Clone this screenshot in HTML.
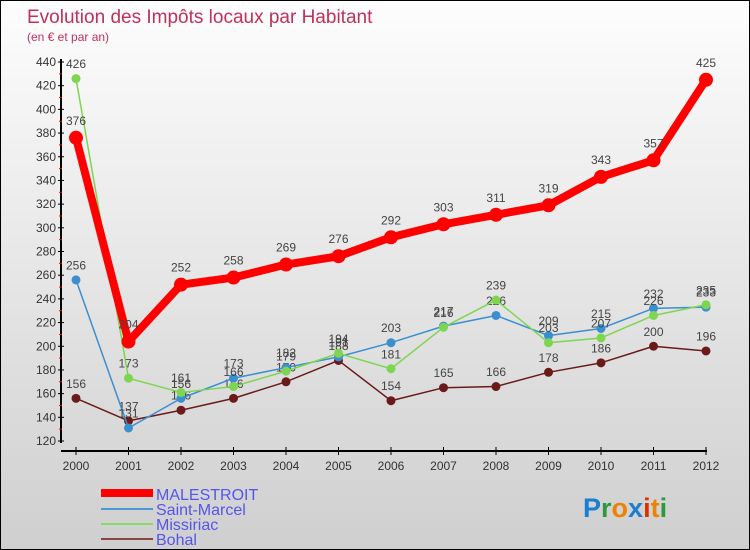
<!DOCTYPE html>
<html><head><meta charset="utf-8"><style>
body{margin:0}
#c{width:750px;height:550px;position:relative;box-sizing:border-box;border:1px solid #000;background:linear-gradient(#fdfdfd,#cfcfcf);font-family:"Liberation Sans",sans-serif;overflow:hidden}
</style></head><body>
<div id="c">
<svg id="s" width="750" height="550" style="position:absolute;left:0;top:0">
<text x="26" y="22" font-size="19" fill="#c0305a">Evolution des Impôts locaux par Habitant</text>
<text x="26" y="40" font-size="12" fill="#c0305a">(en € et par an)</text>
<g id="axes"></g><g id="series"></g>
<g>
<rect x="100" y="488" width="52" height="8" fill="#f00"/>
<text x="155" y="499" font-size="16" fill="#5555ee">MALESTROIT</text>
<line x1="100" y1="508" x2="152" y2="508" stroke="#4a9ad8" stroke-width="2"/>
<text x="155" y="514" font-size="16" fill="#5555ee">Saint-Marcel</text>
<line x1="100" y1="523" x2="152" y2="523" stroke="#88dd66" stroke-width="2"/>
<text x="155" y="529" font-size="16" fill="#5555ee">Missiriac</text>
<line x1="100" y1="538" x2="152" y2="538" stroke="#884444" stroke-width="2"/>
<text x="155" y="544" font-size="16" fill="#5555ee">Bohal</text>
</g>
<text x="582" y="516" font-size="27" font-weight="bold"><tspan fill="#1a7fd0">P</tspan><tspan fill="#2a9a3a">r</tspan><tspan fill="#f08000">o</tspan><tspan fill="#1a7fd0">x</tspan><tspan fill="#e03000">i</tspan><tspan fill="#f08000">t</tspan><tspan fill="#2a9a3a">i</tspan></text>
</svg>
</div>
<script>
const years=["2000","2001","2002","2003","2004","2005","2006","2007","2008","2009","2010","2011","2012"];
const malestroit=[376,204,252,258,269,276,292,303,311,319,343,357,425];
const saintMarcel=[256,131,156,173,182,191,203,217,226,209,215,232,233];
const missiriac=[426,173,161,166,179,194,181,216,239,203,207,226,235];
const bohal=[156,137,146,156,170,188,154,165,166,178,186,200,196];
const yTicks=[120,140,160,180,200,220,240,260,280,300,320,340,360,380,400,420,440];
const NS="http://www.w3.org/2000/svg";
function X(i){return 75+i*52.5;}
function Y(v){return 61+(440-v)*379/320;}
function mk(t,a,p){const e=document.createElementNS(NS,t);for(const k in a)e.setAttribute(k,a[k]);p.appendChild(e);return e;}
const ax=document.getElementById('axes');
let l=mk('line',{x1:60,y1:58,x2:60,y2:442,stroke:'#000','stroke-width':2},ax);


l=mk('line',{x1:60,y1:450,x2:706,y2:450,stroke:'#000','stroke-width':2},ax);


yTicks.forEach((v,i)=>{
 mk('line',{x1:57,y1:Y(v),x2:63,y2:Y(v),stroke:'#000'},ax);
 if(i<yTicks.length-1)mk('line',{x1:58,y1:Y(v+10),x2:61,y2:Y(v+10),stroke:'#f00'},ax);
 const t=mk('text',{x:55,y:Y(v)+4,'font-size':12,fill:'#333','text-anchor':'end'},ax);
 t.textContent=v;
 
 
});
years.forEach((y,i)=>{
 mk('line',{x1:X(i),y1:446,x2:X(i),y2:454,stroke:'#000'},ax);
 const t=mk('text',{x:X(i),y:469,'font-size':12,fill:'#333','text-anchor':'middle'},ax);
 t.textContent=y;
 
 
});
const sg=document.getElementById('series');
function draw(data,color,w,r,name){
 const g=mk('g',{},sg);
 
 
 const p=mk('polyline',{points:data.map((v,i)=>X(i)+','+Y(v)).join(' '),fill:'none',stroke:color,'stroke-width':w,'stroke-linejoin':'round'},g);
 
 
 data.forEach((v,i)=>{
  const c=mk('circle',{cx:X(i),cy:Y(v),r:r,fill:color},g);
  
  
  const t=mk('text',{x:X(i),y:Y(v)-(r+6),'font-size':12,fill:'#444','text-anchor':'middle'},g);
  t.textContent=v;
  
  
 });
}
draw(bohal,'#6b1a1a',1.5,4.5,'bohal');
draw(saintMarcel,'#3a8fd0',1.5,4.5,'saint-marcel');
draw(missiriac,'#7ed650',1.5,4.5,'missiriac');
draw(malestroit,'#f00',8,7,'malestroit');
</script>
</body></html>
